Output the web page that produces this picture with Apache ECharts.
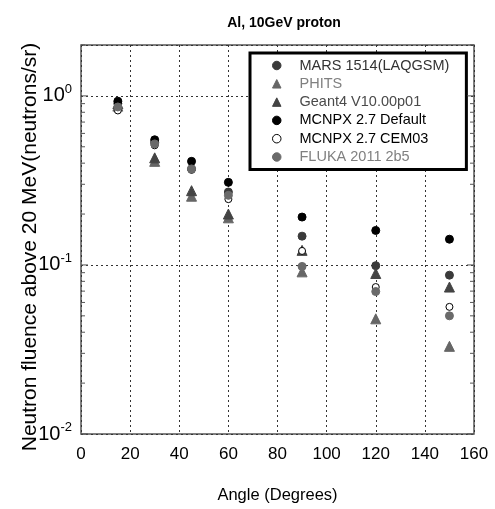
<!DOCTYPE html>
<html>
<head>
<meta charset="utf-8">
<script src="https://cdn.jsdelivr.net/npm/echarts@6/dist/echarts.min.js"></script>
<style>
html,body{margin:0;padding:0;background:#fff;}
#c{width:495px;height:509px;}
</style>
</head>
<body>
<div id="c"></div>
<script>
var angles = [15, 30, 45, 60, 90, 120, 150];
var marsValues    = [0.90, 0.53, 0.37, 0.27, 0.148, 0.099, 0.087];
var phitsValues   = [0.87, 0.41, 0.255, 0.19, 0.091, 0.048, 0.033];
var geant4Values  = [0.90, 0.43, 0.275, 0.20, 0.122, 0.089, 0.074];
var mcnpxDefValues= [0.93, 0.55, 0.41, 0.308, 0.192, 0.16, 0.142];
var mcnpxCemValues= [0.82, 0.51, 0.365, 0.245, 0.121, 0.074, 0.0565];
var flukaValues   = [0.86, 0.52, 0.37, 0.258, 0.098, 0.0696, 0.050];
var seriesNames = ['MARS 1514(LAQGSM)', 'PHITS', 'Geant4 V10.00p01', 'MCNPX 2.7 Default', 'MCNPX 2.7 CEM03', 'FLUKA 2011 2b5'];
var xTicks = [0, 20, 40, 60, 80, 100, 120, 140, 160];
var yName = 'Neutron fluence above 20 MeV(neutrons/sr)';
var yMin = 0.01, yMax = 2;
var xMin = 0, xMax = 160;
var majorY = [0.01, 0.1, 1];
var minorY = [];
[0.01, 0.1, 1].forEach(function (d) {
  for (var k = 2; k <= 9; k++) { var v = +(k * d).toPrecision(3); if (v <= yMax) minorY.push(v); }
});

function pts(vals) { return angles.map(function (a, i) { return [a, vals[i]]; }); }

var styles = [
  {symbol: 'circle', size: 8, color: '#3a3a3a', border: '#3a3a3a', text: '#333'},
  {symbol: 'triangle', size: 10, color: '#666', border: '#666', text: '#808080'},
  {symbol: 'triangle', size: 10, color: '#444', border: '#444', text: '#4a4a4a'},
  {symbol: 'circle', size: 8, color: '#000', border: '#000', text: '#000'},
  {symbol: 'circle', size: 7, color: '#fff', border: '#000', text: '#000'},
  {symbol: 'circle', size: 8, color: '#6a6a6a', border: '#6a6a6a', text: '#808080'}
];
var allVals = [marsValues, phitsValues, geant4Values, mcnpxDefValues, mcnpxCemValues, flukaValues];

var series = allVals.map(function (vals, i) {
  var s = styles[i];
  return {
    name: seriesNames[i], type: 'scatter', data: pts(vals),
    symbol: s.symbol, symbolSize: s.size,
    itemStyle: {color: s.color, borderColor: s.border, borderWidth: 1, opacity: 1},
    emphasis: {disabled: true}, z: 3 + i
  };
});

var tickData = majorY.map(function (v) { return [0, v, 1]; }).concat(minorY.map(function (v) { return [0, v, 0]; }));
series.push({
  type: 'custom', silent: true, z: 10,
  data: tickData,
  encode: {x: 0, y: 1},
  renderItem: function (params, api) {
    var v = api.value(1), major = api.value(2);
    var p1 = api.coord([xMin, v]), p2 = api.coord([xMax, v]);
    var len = major ? 7 : 4;
    var st = {stroke: '#555', lineWidth: 1};
    return {type: 'group', children: [
      {type: 'line', shape: {x1: p1[0], y1: p1[1], x2: p1[0] + len, y2: p1[1]}, style: st},
      {type: 'line', shape: {x1: p2[0], y1: p2[1], x2: p2[0] - len, y2: p2[1]}, style: st}
    ]};
  }
});

var chart = echarts.init(document.getElementById('c'), null, {renderer: 'canvas'});
chart.setOption({
  animation: false,
  backgroundColor: '#fff',
  textStyle: {fontFamily: 'Liberation Sans, Arial, sans-serif'},
  title: {
    text: 'Al, 10GeV proton', left: 279, top: 11, textAlign: 'center',
    textStyle: {fontSize: 14, fontWeight: 'bold', color: '#000', fontFamily: 'Liberation Sans, Arial, sans-serif'}
  },
  graphic: [{
    type: 'text', x: 30, y: 247, rotation: Math.PI / 2, silent: true,
    style: {text: yName, fill: '#000', font: '21px "Liberation Sans", Arial, sans-serif', align: 'center', verticalAlign: 'middle'}
  }],
  grid: {left: 81, right: 21, top: 45, bottom: 74, show: true, borderColor: '#555', borderWidth: 1.5, backgroundColor: 'transparent'},
  legend: {
    data: seriesNames.map(function (n, i) {
      return {name: n, icon: styles[i].symbol, textStyle: {color: styles[i].text},
        itemStyle: {color: styles[i].color, borderColor: styles[i].border, borderWidth: 1}};
    }),
    orient: 'vertical', left: 250, top: 53,
    itemWidth: 8.5, itemHeight: 8.5, itemGap: 3.3,
    padding: [5, 17, 5, 22],
    borderColor: '#000', borderWidth: 3, backgroundColor: '#fff',
    selectedMode: false,
    textStyle: {fontSize: 14.5, lineHeight: 14, padding: [0, 0, 0, 13.5], fontFamily: 'Liberation Sans, Arial, sans-serif'}
  },
  xAxis: {
    type: 'value', min: xMin, max: xMax, interval: 20,
    name: 'Angle (Degrees)', nameLocation: 'middle', nameGap: 53,
    nameTextStyle: {fontSize: 16.5, color: '#000'},
    axisLine: {show: false}, axisTick: {show: false},
    axisLabel: {fontSize: 17, color: '#000', margin: 12},
    splitLine: {show: true, lineStyle: {color: '#333', type: [2, 3], width: 1}}
  },
  yAxis: {
    type: 'log', logBase: 10, min: yMin, max: yMax, interval: 1,
    axisLine: {show: false}, axisTick: {show: false},
    axisLabel: {
      margin: 9, color: '#000', showMaxLabel: false,
      formatter: function (v) {
        var e = Math.log10(v);
        if (Math.abs(e - Math.round(e)) > 1e-6) return '';
        return '{b|10}{s|' + Math.round(e) + '}';
      },
      rich: {
        b: {fontSize: 20, lineHeight: 26, color: '#000'},
        s: {fontSize: 13, lineHeight: 13, verticalAlign: 'top', color: '#000'}
      }
    },
    splitLine: {show: true, lineStyle: {color: '#333', type: [2, 3], width: 1}}
  },
  series: series
});
</script>
</body>
</html>
